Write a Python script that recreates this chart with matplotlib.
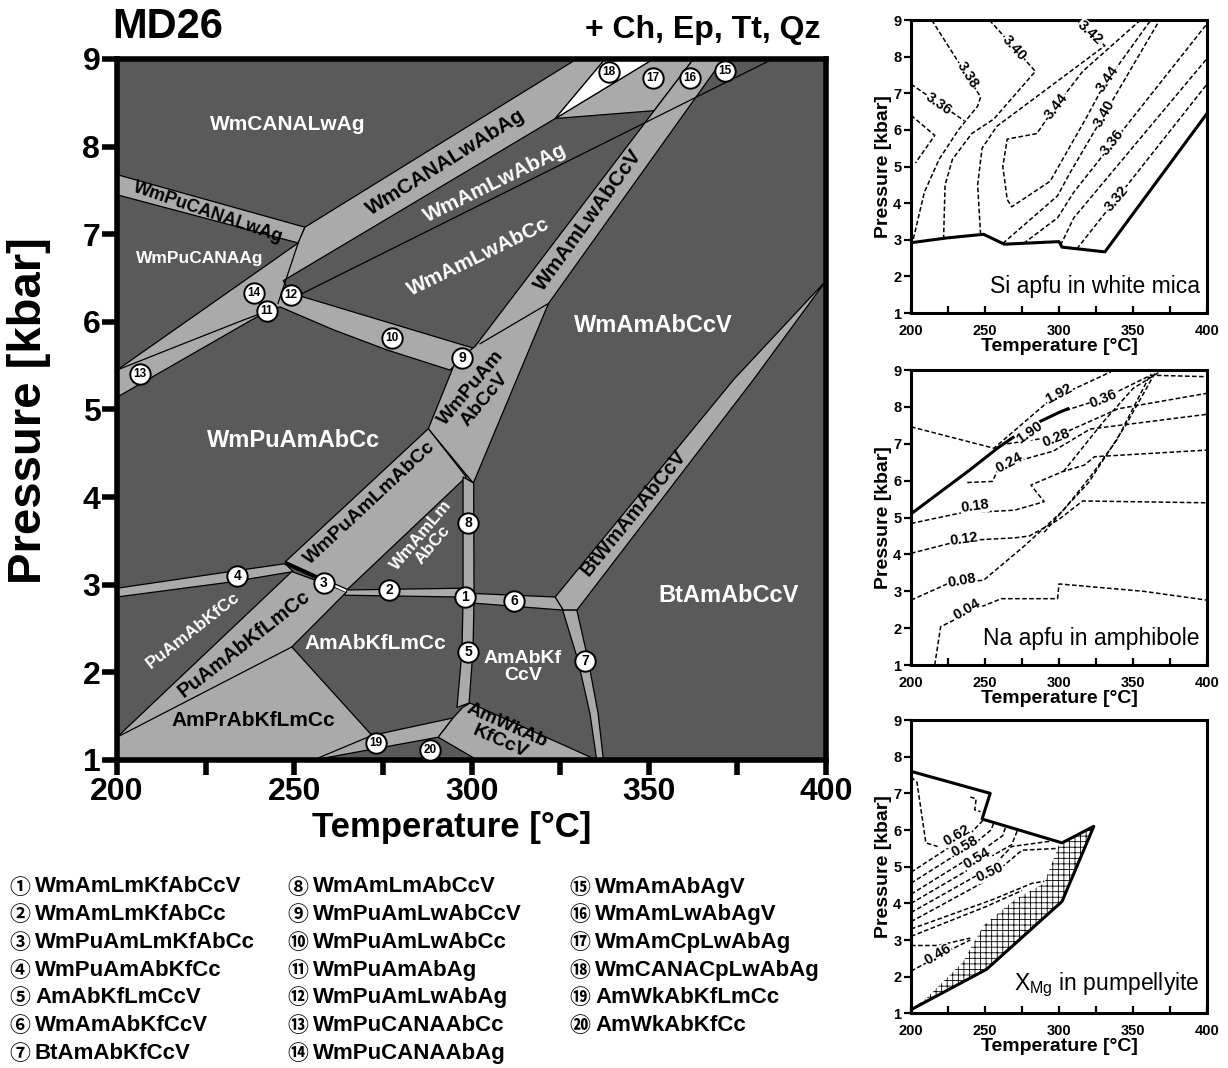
import matplotlib
matplotlib.use('Agg')
import matplotlib.pyplot as plt

plt.rcParams['font.family'] = ['Liberation Sans', 'DejaVu Sans']
plt.rcParams['mathtext.default'] = 'regular'
plt.rcParams['hatch.linewidth'] = 0.6

DARK, LIGHT = '#5a5a5a', '#aaaaaa'

##################################################################
# main pseudosection MD26, field outlines as (T [C], P [kbar])
band_wmpucanalwag = [(200, 7.68), (253.0, 7.08), (251.1, 6.90), (200, 7.45)]
band_upper = [(253.0, 7.08), (329.7, 9.0), (337.7, 9.0), (323.6, 8.32), (246.9, 6.47),
              (248.8, 6.33), (300.5, 5.70), (293.9, 5.45), (276.1, 5.68), (261.0, 5.91),
              (246.0, 6.17), (242.2, 6.12), (200, 5.14), (200, 5.45), (251.1, 6.90)]
field_17 = [(323.6, 8.32), (351.3, 9.0), (362.6, 9.0), (351.5, 8.41)]
field_18 = [(323.6, 8.32), (337.7, 9.0), (351.3, 9.0)]
band_wmamlwabccv = [(362.6, 9.0), (301.0, 5.72), (295.4, 5.54), (287.8, 4.78), (300.5, 4.16),
                    (321.7, 6.21), (371.0, 9.0)]
band_wmpuamlmabcc = [(247.4, 3.26), (287.8, 4.78), (298.5, 4.23), (264.8, 2.94)]
band_4 = [(200, 2.96), (231.9, 3.15), (247.4, 3.24), (249.7, 3.15), (231.9, 3.03), (200, 2.86)]
band_vert = [(297.6, 4.23), (300.6, 4.16), (300.7, 2.82), (300.4, 2.25), (299.3, 1.65),
             (295.9, 1.60), (297.3, 2.25), (297.6, 2.82)]
band_2 = [(264.3, 2.94), (296.8, 2.96), (296.8, 2.86), (264.3, 2.88)]
band_6 = [(300.6, 2.90), (323.6, 2.86), (325.9, 2.71), (300.6, 2.79)]
band_btwm = [(323.6, 2.86), (373.9, 5.34), (400, 6.47), (379.5, 5.34), (329.7, 2.71), (325.9, 2.71)]
band_7 = [(325.7, 2.71), (330.0, 2.14), (333.4, 1.53), (335.3, 1.0), (337.2, 1.0),
          (335.7, 1.53), (332.9, 2.14), (329.7, 2.71)]
field_lowleft = [(200, 1.0), (200, 1.26), (249.3, 3.15), (264.8, 2.92), (249.3, 2.29),
                 (271.9, 1.28), (294.8, 1.48), (290.6, 1.26), (255.4, 1.0)]
field_amwk = [(299.6, 1.65), (335.3, 1.0), (301.6, 1.0), (290.6, 1.26), (294.8, 1.48), (297.5, 1.6)]

light_fields = [band_wmpucanalwag, band_upper, field_17, band_wmamlwabccv, band_wmpuamlmabcc,
                band_4, band_vert, band_2, band_6, band_btwm, band_7, field_lowleft, field_amwk]

inner_lines = [
    [(251.6, 6.31), (385.0, 9.0)],
    [(251.1, 6.90), (245.4, 6.21)],
    [(200, 5.45), (216.8, 5.72), (235.6, 6.02), (242.2, 6.12)],
    [(321.7, 6.21), (302.4, 5.75)],
    [(200, 1.26), (249.3, 2.29)],
    [(271.9, 1.28), (255.4, 1.0)],
]
field3_line = [(247.4, 3.25), (264.8, 2.93)]
field3_gap = [(261.3, 2.99), (264.6, 2.93)]

field_text = ['WmCANALwAg', 'WmPuCANALwAg', 'WmPuCANAAg', 'WmCANALwAbAg', 'WmAmLwAbAg',
              'WmAmLwAbCc', 'WmAmLwAbCcV', 'WmAmAbCcV', 'WmPuAm\nAbCcV', 'WmPuAmAbCc',
              'WmPuAmLmAbCc', 'WmAmLm\nAbCc', 'PuAmAbKfCc', 'PuAmAbKfLmCc', 'AmAbKfLmCc',
              'AmPrAbKfLmCc', 'AmAbKf\nCcV', 'AmWkAb\nKfCcV', 'BtWmAmAbCcV', 'BtAmAbCcV']
field_T = [248.2, 225.8, 223.4, 292.8, 306.6, 302.1, 332.9, 351.3, 301.9, 249.7,
           271.4, 287.4, 221.4, 235.8, 272.8, 238.4, 314.5, 309.0, 345.8, 372.5]
field_P = [8.25, 7.25, 6.72, 7.82, 7.58, 6.74, 7.16, 5.96, 5.18, 4.65,
           3.93, 3.51, 2.48, 2.33, 2.33, 1.45, 2.06, 1.30, 3.82, 2.88]
field_rot = [0, -19, 0, 32, 26, 26, 54, 0, 50, 0, 43, 50, 38, 38, 0, 0, 0, -24, 51, 0]
field_black = [0, 1, 0, 1, 0, 0, 1, 0, 1, 0, 1, 0, 0, 1, 0, 1, 0, 1, 1, 0]
field_size = [15, 13, 12.5, 15, 15, 15, 15, 17, 14, 17, 14, 12.5, 12.5, 14.5, 15, 15, 14, 14, 14.5, 17]

num_id = list(range(1, 21))
num_T = [298.2, 276.7, 258.4, 233.9, 299.0, 312.0, 332.0, 299.0, 297.3, 277.6,
         242.3, 249.1, 206.5, 238.6, 371.5, 361.6, 351.2, 338.8, 273.1, 288.3]
num_P = [2.86, 2.94, 3.02, 3.10, 2.23, 2.82, 2.13, 3.70, 5.59, 5.81,
         6.12, 6.31, 5.40, 6.33, 8.86, 8.78, 8.78, 8.85, 1.19, 1.11]

legend_names = ['WmAmLmKfAbCcV', 'WmAmLmKfAbCc', 'WmPuAmLmKfAbCc', 'WmPuAmAbKfCc', 'AmAbKfLmCcV',
                'WmAmAbKfCcV', 'BtAmAbKfCcV', 'WmAmLmAbCcV', 'WmPuAmLwAbCcV', 'WmPuAmLwAbCc',
                'WmPuAmAbAg', 'WmPuAmLwAbAg', 'WmPuCANAAbCc', 'WmPuCANAAbAg', 'WmAmAbAgV',
                'WmAmLwAbAgV', 'WmAmCpLwAbAg', 'WmCANACpLwAbAg', 'AmWkAbKfLmCc', 'AmWkAbKfCc']

##################################################################
# Si apfu in white mica
si_bound = [(200, 2.92), (224, 3.05), (249, 3.15), (263, 2.88), (300, 2.95), (302, 2.8),
            (331, 2.67), (400, 6.45)]
si_lines = [
    [(200, 7.25), (236, 6.25)],
    [(200, 6.4), (216, 5.85), (203, 5.1)],
    [(214, 9.0), (247, 6.9), (245, 6.65), (232, 6.0), (219, 5.2), (209, 4.3), (201, 2.93)],
    [(253, 9.0), (284, 7.6), (256, 6.3), (241, 5.9), (228, 5.2), (223, 4.5), (222, 3.05)],
    [(312, 9.0), (331, 8.3), (258, 6.1), (248, 5.5), (245, 4.5), (247, 3.14)],
    [(355, 9.0), (316, 7.6), (296, 6.55), (285, 5.9), (265, 5.75), (262, 5.0), (265, 4.1),
     (268, 3.9), (294, 4.6), (318, 6.3), (330, 7.2), (362, 9.0)],
    [(262, 2.9), (299, 4.2), (307, 4.8), (368, 9.0)],
    [(276, 2.9), (299, 3.6), (310, 4.3), (400, 8.9)],
    [(301, 2.85), (310, 3.6), (400, 7.95)],
    [(312, 2.75), (400, 7.25)],
]
si_lab = ['3.36', '3.38', '3.40', '3.42', '3.44', '3.44', '3.40', '3.36', '3.32']
si_lab_T = [219, 238, 270, 321, 298, 333, 331, 336, 339]
si_lab_P = [6.7, 7.5, 8.25, 8.67, 6.66, 7.4, 6.45, 5.66, 4.13]
si_lab_rot = [-35, -58, -48, -42, 52, 55, 60, 52, 50]

# Na apfu in amphibole
na_bound = [(200, 5.1), (220, 5.7), (240, 6.3), (259, 6.9), (279, 7.45), (300, 7.85), (306, 7.95)]
na_lines = [
    [(200, 7.46), (256, 6.88), (294, 8.19), (335, 8.95)],
    [(300, 7.85), (330, 8.23), (362, 8.86), (400, 8.82)],
    [(265, 7.0), (298, 7.2), (340, 7.95), (400, 8.37)],
    [(238, 5.95), (255, 5.98), (260, 6.4), (296, 6.8), (321, 7.4), (400, 7.8)],
    [(200, 4.84), (233, 5.12), (270, 5.2), (290, 5.43), (281, 5.88), (302, 6.24), (317, 6.42),
     (324, 6.65), (400, 6.83)],
    [(200, 4.03), (233, 4.37), (270, 4.45), (280, 4.5), (300, 4.95), (316, 5.45), (400, 5.4)],
    [(200, 2.76), (225, 3.21), (249, 3.3), (276, 4.21), (303, 5.2), (321, 6.1), (339, 7.1), (362, 8.9)],
    [(216, 1.0), (220, 2.04), (245, 2.54), (261, 2.8), (299, 2.8), (300, 3.2), (357, 3.0), (400, 2.76)],
    [(290, 4.6), (305, 5.3), (320, 5.95), (345, 7.5), (366, 9.0)],
    [(303, 6.25), (330, 7.6), (350, 8.5), (370, 9.0)],
]
na_lab = ['1.92', '0.36', '1.90', '0.28', '0.24', '0.18', '0.12', '0.08', '0.04']
na_lab_T = [300, 330, 280, 298, 266, 243, 236, 234, 238]
na_lab_P = [8.35, 8.23, 7.3, 7.15, 6.5, 5.3, 4.42, 3.3, 2.5]
na_lab_rot = [28, 22, 35, 22, 28, 8, 8, 10, 30]

# X_Mg in pumpellyite
pu_bound = [(200, 7.6), (253.5, 7.0), (248, 6.3), (302, 5.65), (323.5, 6.1), (302, 4.05),
            (251, 2.2), (200, 1.1)]
pu_hatch = [(200, 1.1), (251, 2.2), (302, 4.05), (323.5, 6.1), (300, 5.6), (290, 4.55),
            (270, 4.1), (249, 3.4), (235, 2.4), (210, 1.4)]
pu_lines = [
    [(200, 7.45), (204, 7.3), (210, 5.65), (218, 5.55)],
    [(240, 6.9), (244, 6.85), (243, 6.55), (247, 6.5)],
    [(200, 4.85), (240, 5.9), (249, 6.28)],
    [(200, 4.55), (245, 5.7), (254, 6.0), (256, 6.2)],
    [(200, 4.25), (250, 5.5), (262, 5.85), (264, 6.1)],
    [(200, 4.0), (255, 5.3), (268, 5.6), (272, 6.0)],
    [(200, 3.75), (255, 5.0), (268, 5.55), (295, 5.7)],
    [(200, 3.5), (250, 4.6), (275, 5.45), (300, 5.5)],
    [(200, 3.3), (255, 4.1), (282, 4.55), (290, 4.6)],
    [(200, 3.1), (250, 3.9), (275, 4.35)],
    [(200, 2.85), (218, 2.85), (240, 3.05)],
    [(200, 2.15), (225, 2.7), (240, 3.0)],
]
pu_lab = ['0.62', '0.58', '0.54', '0.50', '0.46']
pu_lab_T = [231, 236.5, 244.4, 253.4, 218]
pu_lab_P = [5.86, 5.55, 5.23, 4.86, 2.6]
pu_lab_rot = [30, 30, 30, 25, 30]

##################################################################
def bold_ticks(ax):
    for lab in ax.get_xticklabels() + ax.get_yticklabels():
        lab.set_fontweight('bold')

def draw_main(ax):
    ax.set_facecolor(DARK)
    for poly in light_fields:
        ax.fill(*zip(*poly), facecolor=LIGHT, edgecolor='black', linewidth=0.9, zorder=2)
    ax.fill(*zip(*field_18), facecolor='white', edgecolor='black', linewidth=0.9, zorder=2)
    for ln in inner_lines:
        ax.plot(*zip(*ln), color='black', linewidth=0.9, zorder=3)
    ax.plot(*zip(*field3_line), color='black', linewidth=3.0, solid_capstyle='butt', zorder=3)
    ax.plot(*zip(*field3_gap), color='white', linewidth=1.6, solid_capstyle='butt', zorder=3)
    for txt, t, p, rot, blk, size in zip(field_text, field_T, field_P, field_rot, field_black, field_size):
        ax.text(t, p, txt, rotation=rot, color='black' if blk else 'white', fontsize=size,
                fontweight='bold', ha='center', va='center', rotation_mode='anchor',
                multialignment='center', linespacing=1.05, zorder=4, clip_on=True)
    ax.scatter(num_T, num_P, s=215, facecolor='white', edgecolor='black', linewidth=1.4, zorder=5)
    for n, t, p in zip(num_id, num_T, num_P):
        ax.text(t, p, str(n), fontsize=10 if n < 10 else 8.5, fontweight='bold',
                ha='center', va='center', zorder=6)
    ax.set_xlim(200, 400)
    ax.set_ylim(1, 9)
    ax.set_xticks([200, 250, 300, 350, 400])
    ax.set_xticks([225, 275, 325, 375], minor=True)
    ax.set_yticks(range(1, 10))
    ax.tick_params(which='both', direction='out', length=11, width=4, labelsize=23, pad=1)
    for s in ax.spines.values():
        s.set_linewidth(4)
    bold_ticks(ax)

def draw_small(ax, bound, lines, labs, lab_T, lab_P, lab_rot, note):
    ax.plot(*zip(*bound), color='black', linewidth=2.2, zorder=4)
    for ln in lines:
        ax.plot(*zip(*ln), color='black', linewidth=1.1, dashes=(3, 1.6), zorder=3)
    for txt, t, p, r in zip(labs, lab_T, lab_P, lab_rot):
        ax.text(t, p, txt, rotation=r, fontsize=10.5, fontweight='bold', ha='center', va='center',
                rotation_mode='anchor', zorder=5,
                bbox=dict(boxstyle='square,pad=0.02', fc='white', ec='none'))
    ax.text(0.975, 0.05, note, transform=ax.transAxes, ha='right', va='bottom', fontsize=16.5, zorder=6)
    ax.set_xlim(200, 400)
    ax.set_ylim(1, 9)
    ax.set_xticks([200, 250, 300, 350, 400])
    ax.set_xticks([225, 275, 325, 375], minor=True)
    ax.set_yticks(range(1, 10))
    ax.tick_params(axis='x', which='both', direction='in', length=5, width=1.6, labelsize=10.5, pad=8)
    ax.tick_params(axis='y', direction='out', length=5, width=1.6, labelsize=10.5, pad=2)
    ax.set_xlabel('Temperature [°C]', fontsize=14, fontweight='bold', labelpad=0)
    ax.set_ylabel('Pressure [kbar]', fontsize=14, fontweight='bold', labelpad=1)
    for s in ax.spines.values():
        s.set_linewidth(2.2)
    bold_ticks(ax)

###################################################
fig = plt.figure(figsize=(12.28, 10.68), dpi=100)

ax = fig.add_axes([0.0953, 0.2884, 0.5774, 0.6564])
draw_main(ax)

fig.text(0.0912, 0.9747, 'MD26', fontsize=30, fontweight='bold', ha='left', va='center')
fig.text(0.6678, 0.9719, '+ Ch, Ep, Tt, Qz', fontsize=23, fontweight='bold', ha='right', va='center')
fig.text(0.368, 0.2255, 'Temperature [°C]', fontsize=25, fontweight='bold', ha='center', va='center')
fig.text(0.0235, 0.616, 'Pressure [kbar]', fontsize=34, fontweight='bold', ha='center', va='center',
         rotation=90)

ax1 = fig.add_axes([0.7419, 0.7069, 0.2410, 0.2743])
draw_small(ax1, si_bound, si_lines, si_lab, si_lab_T, si_lab_P, si_lab_rot, 'Si apfu in white mica')

ax2 = fig.add_axes([0.7419, 0.3773, 0.2410, 0.2762])
draw_small(ax2, na_bound, na_lines, na_lab, na_lab_T, na_lab_P, na_lab_rot, 'Na apfu in amphibole')

ax3 = fig.add_axes([0.7419, 0.0512, 0.2410, 0.2746])
ax3.fill(*zip(*pu_hatch), facecolor='white', edgecolor='black', linewidth=0, hatch='+++', zorder=2)
draw_small(ax3, pu_bound, pu_lines, pu_lab, pu_lab_T, pu_lab_P, pu_lab_rot,
           '$X_{Mg}$ in pumpellyite')

# legend of the numbered small fields
col_x = [20, 298, 580]
for i, name in enumerate(legend_names):
    col = 0 if i < 7 else (1 if i < 14 else 2)
    row = i - [0, 7, 14][col]
    y = 1 - (887 + 27.7 * row) / 1068
    fig.text(col_x[col] / 1228, y, chr(0x2460 + i), family=['Noto Sans CJK JP', 'DejaVu Sans'],
             fontsize=15, fontweight='bold', ha='center', va='center')
    fig.text((col_x[col] + 15) / 1228, y, name, fontsize=16, fontweight='bold', ha='left', va='center')

plt.savefig('out.png', dpi=100)
